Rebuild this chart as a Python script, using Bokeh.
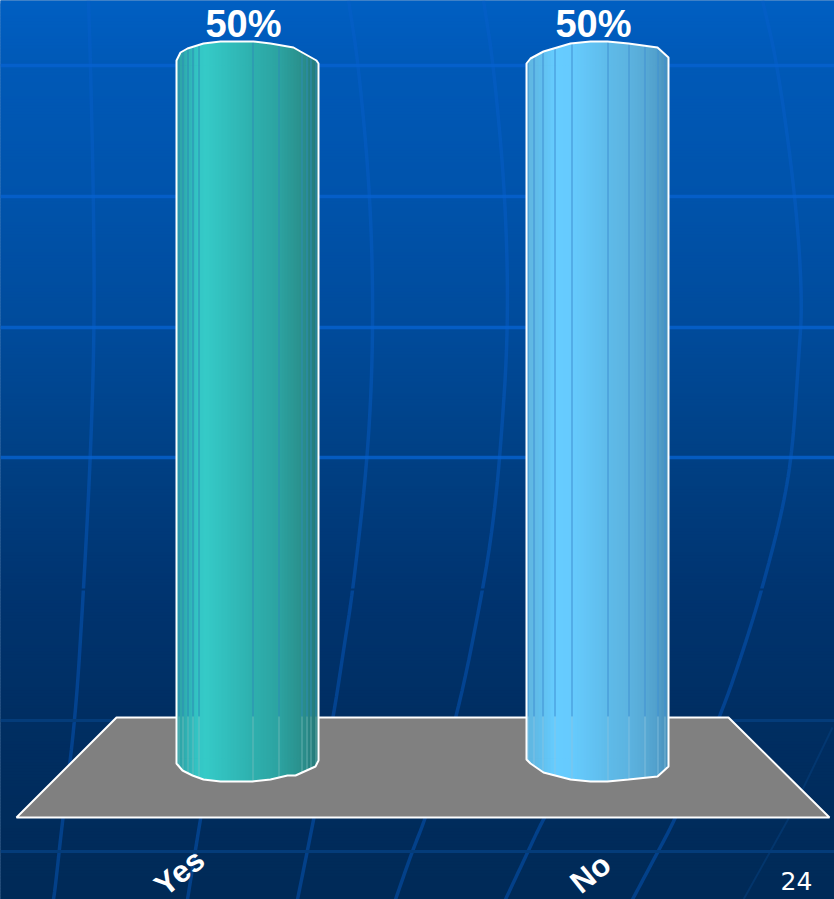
import numpy as np
from bokeh.core.properties import value
from bokeh.embed import file_html
from bokeh.models import Range1d
from bokeh.plotting import figure
from bokeh.resources import INLINE

# ---- chart data
categories = ["Yes", "No"]
percent = [50, 50]

W, H = 834, 899
CX0, STEP = 247.5, 350.0     # pixel centre of first category, category spacing
Y0, Y50 = 759.0, 64.0        # pixel rows of value 0 and value 50
UNIT = (Y0 - Y50) / 50.0

p = figure(width=W, height=H, output_backend="svg", toolbar_location=None,
           x_axis_location=None, y_axis_location=None, min_border=0,
           x_range=Range1d(-CX0 / STEP, (W - CX0) / STEP),
           y_range=Range1d(-(H - Y0) / UNIT, Y0 / UNIT),
           outline_line_color=None, background_fill_color="#004a9a", border_fill_color="#004a9a")
p.grid.visible = False
p.extra_x_ranges = {"px": Range1d(0, W)}
p.extra_y_ranges = {"px": Range1d(H, 0)}
PX = dict(x_range_name="px", y_range_name="px")


def hex2rgb(c):
    return np.array([int(c[i:i + 2], 16) for i in (1, 3, 5)], float)


def ramp(pos, stops, colors):
    rgb = np.array([hex2rgb(c) for c in colors])
    return ["#%02x%02x%02x" % tuple(int(round(np.interp(q, stops, rgb[:, k]))) for k in range(3)) for q in pos]


def smooth(xs, ys, n=3):
    pts = np.column_stack([xs, ys]).astype(float)
    for _ in range(n):
        a, b = pts[:-1], pts[1:]
        mid = np.empty((2 * len(a), 2))
        mid[0::2] = 0.75 * a + 0.25 * b
        mid[1::2] = 0.25 * a + 0.75 * b
        pts = np.vstack([pts[:1], mid, pts[-1:]])
    return pts[:, 0].tolist(), pts[:, 1].tolist()


# ---- background gradient (painted top-down, each strip overlapped by the next)
bg_stops = [0, 64, 196, 327, 458, 589, 720, 851, 899]
bg_colors = ["#005fc2", "#0059b7", "#0053ab", "#004b9b", "#004084", "#003470", "#002e62", "#002b5a", "#002a57"]
rows = np.arange(0, H, 3)
p.quad(left=-2, right=W + 2, top=rows - (rows == 0) * 2, bottom=np.minimum(rows + 6, H + 2),
       fill_color=ramp(rows + 1.5, bg_stops, bg_colors), line_color=None, **PX)

# ---- background curved lines
curves = [
    ([88, 90, 93, 94, 90, 83, 75, 62, 55, 53], [0, 64, 196, 327, 458, 590, 718, 820, 885, 899]),
    ([348, 358, 370, 373, 368, 353, 343, 333, 313, 297],
     [0, 64, 196, 327, 450, 586, 650, 716, 820, 899]),
    ([483, 493, 505, 508, 500, 493, 483, 457, 425, 412, 395],
     [0, 64, 196, 327, 450, 520, 586, 716, 818, 850, 899]),
    ([762, 777, 795, 802, 798, 792, 782, 762, 745, 720, 675, 657, 632],
     [0, 64, 196, 300, 360, 450, 510, 587, 643, 716, 818, 852, 899]),
    ([205, 200, 187], [790, 818, 899]),
    ([560, 543, 527, 505], [790, 818, 852, 899]),
]
curves = [smooth(*c) for c in curves]
p.multi_line([c[0] for c in curves], [c[1] for c in curves], line_color="#0660cc", line_alpha=0.42,
             line_width=3.5, **PX)
p.multi_line([[832, 787, 743]], [[727, 820, 899]], line_color="#0a4a90", line_alpha=0.35, line_width=2, **PX)

# ---- background horizontal lines
p.segment(x0=0, x1=W, y0=[65, 196, 327, 457], y1=[65, 196, 327, 457], line_color="#0662d0", line_alpha=0.8,
          line_width=3.5, **PX)
p.segment(x0=0, x1=W, y0=[589], y1=[589], line_color="#003470", line_width=2, **PX)
p.segment(x0=0, x1=W, y0=[720, 851], y1=[720, 851], line_color="#043c7a", line_width=3, **PX)

# ---- floor
p.patch([16, 116, 728, 829], [817, 717, 717, 817], fill_color="#808080", line_color="#ffffff", line_width=2, **PX)

# ---- cylinders
bars = [
    dict(
        top=([176, 180, 187, 203, 220, 253, 270, 293, 300, 316, 318], [60, 52, 48, 43, 41, 41, 43, 47, 51, 60, 63]),
        bottom=([176, 182, 192, 203, 220, 252, 270, 287, 295, 315, 318],
                [763, 770, 775, 779, 781, 781, 779, 775, 775, 766, 760]),
        stops=[176, 182, 187, 192, 198, 205, 225, 252, 278, 301, 306, 310, 318],
        colors=["#2ca0a4", "#2ea9ac", "#2fb2b4", "#31bbbc", "#34c7c6", "#35cac7", "#32bfbd", "#2eb0ae", "#2ca3a1",
                "#2a908c", "#298a88", "#278280", "#247878"],
        seps=[178, 182, 187, 192, 198, 252, 278, 301, 306, 310, 315],
        sep_hi="#2c8cb4", sep_lo="#7fbdbd",
    ),
    dict(
        top=([526, 530, 543, 570, 590, 607, 628, 657, 668], [63, 58, 51, 43, 41, 41, 43, 47, 57]),
        bottom=([526, 530, 543, 570, 590, 607, 628, 657, 668], [759, 763, 772, 779, 781, 781, 779, 776, 766]),
        stops=[526, 533, 542, 554, 571, 588, 607, 628, 644, 657, 664, 668],
        colors=["#5fb5df", "#60b9e5", "#62c0ee", "#66ccff", "#66cbfd", "#63c4f5", "#5fbbe9", "#5cb3e0", "#58aad5",
                "#519fcb", "#4b95c0", "#4890b8"],
        seps=[527, 533, 542, 554, 571, 607, 628, 644, 657, 664],
        sep_hi="#4090d2", sep_lo="#8fc4e0",
    ),
]

for i, (val, b) in enumerate(zip(percent, bars)):
    centre = CX0 + i * STEP
    left, right = b["stops"][0], b["stops"][-1]
    edges = np.append(np.arange(left, right, 3.0), right)
    mids = (edges[:-1] + edges[1:]) / 2
    cols = ramp(mids, b["stops"], b["colors"])
    rights = np.minimum(edges[1:] + 3, right)   # each strip overlaps the next, which paints over it
    # body, value driven: strips run from 0 to the value
    p.quad(left=(edges[:-1] - centre) / STEP + i, right=(rights - centre) / STEP + i,
           bottom=0, top=val, fill_color=cols, line_color=None)
    # top and bottom caps
    xs_cap, ys_cap = [], []
    for a, c in zip(edges[:-1], rights):
        xx = [a, c, c, a]
        ta, tc = np.interp([a, c], *b["top"])
        ba, bc = np.interp([a, c], *b["bottom"])
        xs_cap += [xx, xx]
        ys_cap += [[ta, tc, Y50 + 1, Y50 + 1], [Y0 - 1, Y0 - 1, bc, ba]]
    p.patches(xs_cap, ys_cap, fill_color=[c for c in cols for _ in (0, 1)], line_color=None, **PX)
    # facet separators
    sx = np.array(b["seps"], float) + 0.5
    st = np.interp(sx, *b["top"])
    sb = np.interp(sx, *b["bottom"])
    p.segment(x0=sx, x1=sx, y0=st, y1=[716] * len(sx), line_color=b["sep_hi"], line_width=1, **PX)
    p.segment(x0=sx, x1=sx, y0=[716] * len(sx), y1=sb, line_color=b["sep_lo"], line_width=1, line_alpha=0.7, **PX)
    # white outline
    ox = list(b["top"][0]) + list(b["bottom"][0][::-1])
    oy = list(b["top"][1]) + list(b["bottom"][1][::-1])
    p.patch(ox, oy, fill_color=None, line_color="#ffffff", line_width=2, **PX)

# ---- value labels
p.text(x=list(range(len(categories))), y=percent, text=[f"{v}%" for v in percent],
       x_offset=-4.5, y_offset=-41, text_align="center", text_baseline="middle",
       text_color="#ffffff", text_font=value("Liberation Sans"), text_font_style="bold", text_font_size="38px")

# ---- category labels (rotated)
label_x = [179, 590]
label_y = [872, 873]
p.text(x=label_x, y=label_y, text=categories, angle=0.68, text_align="center", text_baseline="middle",
       text_color="#ffffff", text_font=value("Liberation Sans"), text_font_style="bold", text_font_size="31px", **PX)

# ---- slide number
p.text(x=[796], y=[880], text=["24"], text_align="center", text_baseline="middle", text_color="#ffffff",
       text_font=value("DejaVu Sans"), text_font_size="25px", **PX)

html = file_html(p, INLINE)
html = html.replace("</head>", "<style>html,body{margin:0!important;padding:0;overflow:hidden}</style></head>", 1)
open("out.html", "w").write(html)
